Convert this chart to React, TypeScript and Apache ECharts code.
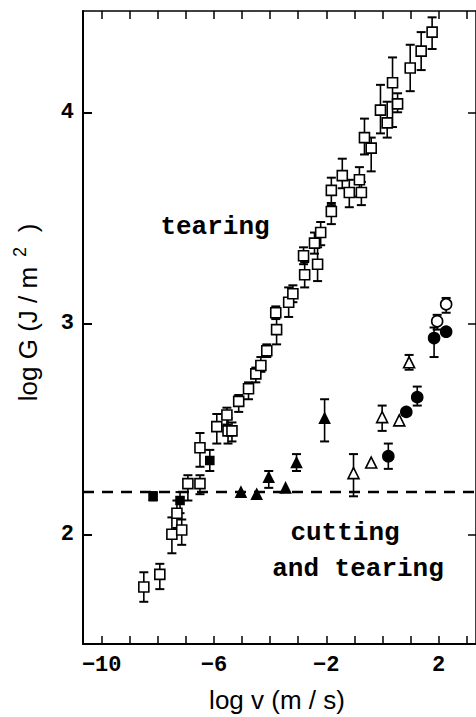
import React, { useEffect, useRef } from "react";
import * as echarts from "echarts";

// [log v, log G, error low, error high]
const tearingOpenSquares: (number | null)[][] = [
  [-8.5, 1.75, 1.68, 1.82],
  [-7.93, 1.81, 1.74, 1.86],
  [-7.5, 2.0, 1.91, 2.08],
  [-7.15, 2.02, 1.95, 2.07],
  [-7.32, 2.1, 2.03, 2.16],
  [-6.93, 2.24, 2.16, 2.28],
  [-6.5, 2.24, 2.19, 2.28],
  [-6.5, 2.41, 2.32, 2.48],
  [-5.9, 2.51, 2.43, 2.57],
  [-5.5, 2.49, 2.43, 2.55],
  [-5.36, 2.49, 2.44, 2.53],
  [-5.54, 2.565, 2.52, 2.6],
  [-5.12, 2.63, 2.58, 2.66],
  [-4.77, 2.69, 2.64, 2.72],
  [-4.51, 2.76, 2.72, 2.79],
  [-4.33, 2.8, 2.77, 2.84],
  [-4.12, 2.87, 2.84, 2.9],
  [-3.77, 2.97, 2.9, 3.03],
  [-3.8, 3.05, 3.02, 3.08],
  [-3.34, 3.1, 3.03, 3.17],
  [-3.19, 3.14, 3.1, 3.18],
  [-2.77, 3.23, 3.17, 3.29],
  [-2.81, 3.32, 3.28, 3.36],
  [-2.31, 3.28, 3.2, 3.36],
  [-2.42, 3.38, 3.33, 3.43],
  [-2.2, 3.43, 3.37, 3.48],
  [-1.82, 3.53, 3.47, 3.57],
  [-1.82, 3.63, 3.56, 3.69],
  [-1.43, 3.7, 3.64, 3.78],
  [-1.18, 3.62, 3.55, 3.68],
  [-0.82, 3.68, 3.6, 3.74],
  [-0.75, 3.62, 3.56, 3.67],
  [-0.64, 3.88, 3.8, 3.97],
  [-0.4, 3.83, 3.72, 3.88],
  [-0.07, 4.01, 3.9, 4.13],
  [0.17, 3.95, 3.88, 4.05],
  [0.36, 4.14, 3.93, 4.26],
  [0.54, 4.04, 4.0, 4.09],
  [0.99, 4.21, 4.1, 4.32],
  [1.38, 4.29, 4.2, 4.38],
  [1.77, 4.38, 4.3, 4.45],
];

const filledSquares: (number | null)[][] = [
  [-8.17, 2.18, 2.16, 2.2],
  [-7.21, 2.16, 2.1, 2.2],
  [-6.15, 2.35, 2.3, 2.4],
];

const filledTriangles: (number | null)[][] = [
  [-5.04, 2.2, null, null],
  [-4.48, 2.19, null, null],
  [-4.05, 2.27, 2.22, 2.3],
  [-3.45, 2.22, null, null],
  [-3.06, 2.34, 2.3, 2.38],
  [-2.06, 2.55, 2.44, 2.64],
];

const openTriangles: (number | null)[][] = [
  [-1.03, 2.29, 2.18, 2.38],
  [-0.4, 2.34, null, null],
  [-0.01, 2.555, 2.49, 2.61],
  [0.6, 2.54, null, null],
  [0.95, 2.815, 2.78, 2.85],
];

const filledCircles: (number | null)[][] = [
  [0.21, 2.37, 2.31, 2.43],
  [0.85, 2.58, null, null],
  [1.24, 2.65, 2.61, 2.7],
  [1.84, 2.93, 2.84, 2.98],
  [2.27, 2.96, null, null],
];

const openCircles: (number | null)[][] = [
  [1.95, 3.01, 2.97, 3.04],
  [2.27, 3.09, 3.05, 3.12],
];

const cuttingThreshold = 2.2;
const xTickValues = [-10, -9, -8, -7, -6, -5, -4, -3, -2, -1, 0, 1, 2, 3];
const xLabelValues = [-10, -6, -2, 2];
const yTickValues = [2, 3, 4];

const X_MIN = -32 / 3;
const X_MAX = 10 / 3;
const Y_MIN = 1.48;
const Y_MAX = 4.48;

const allSeries = [
  tearingOpenSquares,
  filledSquares,
  filledTriangles,
  openTriangles,
  filledCircles,
  openCircles,
];
const errorData = allSeries
  .flat()
  .filter((d) => d[2] != null && d[3] != null)
  .map((d) => [d[0], d[2], d[3]]);

const fmt = (v: number) => (v < 0 ? "\u2212" + Math.abs(v) : String(v));

function buildOption(): any {
  const tickFont = {
    fontFamily: "Liberation Mono",
    fontWeight: "bold",
    fontSize: 22,
    color: "#000",
  };
  const scatter = (
    data: (number | null)[][],
    symbol: string,
    size: number,
    filled: boolean
  ) => ({
    type: "scatter",
    data: data.map((d) => [d[0], d[1]]),
    symbol,
    symbolSize: size,
    itemStyle: {
      color: filled ? "#000" : "#fff",
      borderColor: "#000",
      borderWidth: 1.6,
      opacity: 1,
    },
    z: 5,
  });
  return {
    animation: false,
    backgroundColor: "#fff",
    grid: { left: 83, top: 11, width: 394, height: 633 },
    xAxis: [
      {
        type: "value",
        position: "bottom",
        min: X_MIN,
        max: X_MAX,
        axisLine: { onZero: false, lineStyle: { color: "#000", width: 2 } },
        axisTick: {
          inside: true,
          length: 8,
          customValues: xTickValues,
          lineStyle: { color: "#000", width: 1.5 },
        },
        axisLabel: {
          customValues: xLabelValues,
          formatter: fmt,
          margin: 10,
          ...tickFont,
        },
        splitLine: { show: false },
      },
      {
        type: "value",
        position: "top",
        min: X_MIN,
        max: X_MAX,
        axisLine: { onZero: false, lineStyle: { color: "#000", width: 1.5 } },
        axisTick: {
          inside: true,
          length: 8,
          customValues: xTickValues,
          lineStyle: { color: "#000", width: 1.5 },
        },
        axisLabel: { show: false },
        splitLine: { show: false },
      },
    ],
    yAxis: [
      {
        type: "value",
        position: "left",
        min: Y_MIN,
        max: Y_MAX,
        axisLine: { show: true, onZero: false, lineStyle: { color: "#000", width: 2 } },
        axisTick: {
          show: true,
          inside: true,
          length: 9,
          customValues: yTickValues,
          lineStyle: { color: "#000", width: 2 },
        },
        axisLabel: {
          customValues: yTickValues,
          margin: 9,
          ...tickFont,
        },
        splitLine: { show: false },
      },
      {
        type: "value",
        position: "right",
        min: Y_MIN,
        max: Y_MAX,
        axisLine: { show: true, onZero: false, lineStyle: { color: "#000", width: 1.5 } },
        axisTick: {
          show: true,
          inside: true,
          length: 8,
          customValues: yTickValues,
          lineStyle: { color: "#000", width: 1.5 },
        },
        axisLabel: { show: false },
        splitLine: { show: false },
      },
    ],
    series: [
      {
        type: "line",
        data: [
          [X_MIN, cuttingThreshold],
          [X_MAX, cuttingThreshold],
        ],
        showSymbol: false,
        symbol: "none",
        lineStyle: { color: "#000", width: 2.5, type: [11, 8] },
        z: 1,
      },
      {
        type: "custom",
        data: errorData,
        encode: { x: 0, y: [1, 2] },
        z: 3,
        renderItem: (params: any, api: any) => {
          const x = api.value(0);
          const lo = api.coord([x, api.value(1)]);
          const hi = api.coord([x, api.value(2)]);
          const cap = 4.5;
          const st = { stroke: "#000", lineWidth: 1.6 };
          const cst = { stroke: "#000", lineWidth: 2 };
          return {
            type: "group",
            children: [
              { type: "line", shape: { x1: lo[0], y1: lo[1], x2: hi[0], y2: hi[1] }, style: st },
              { type: "line", shape: { x1: lo[0] - cap, y1: lo[1], x2: lo[0] + cap, y2: lo[1] }, style: cst },
              { type: "line", shape: { x1: hi[0] - cap, y1: hi[1], x2: hi[0] + cap, y2: hi[1] }, style: cst },
            ],
          };
        },
      },
      scatter(tearingOpenSquares, "rect", 10, false),
      scatter(filledSquares, "rect", 8, true),
      scatter(filledTriangles, "triangle", 10, true),
      scatter(openTriangles, "triangle", 11, false),
      scatter(filledCircles, "circle", 11, true),
      scatter(openCircles, "circle", 11, false),
    ],
    graphic: [
      {
        type: "text",
        x: 215,
        y: 227,
        style: {
          text: "tearing",
          fontFamily: "Liberation Mono",
          fontSize: 26,
          fontWeight: "bold",
          fill: "#000",
          align: "center",
          verticalAlign: "middle",
        },
      },
      {
        type: "text",
        x: 345,
        y: 533,
        style: {
          text: "cutting",
          fontFamily: "Liberation Mono",
          fontSize: 26,
          fontWeight: "bold",
          fill: "#000",
          align: "center",
          verticalAlign: "middle",
        },
      },
      {
        type: "text",
        x: 358,
        y: 569,
        style: {
          text: "and tearing",
          fontFamily: "Liberation Mono",
          fontSize: 26,
          fontWeight: "bold",
          fill: "#000",
          align: "center",
          verticalAlign: "middle",
        },
      },
      {
        type: "text",
        x: 277,
        y: 700,
        style: {
          text: "log v (m / s)",
          fontFamily: "Liberation Sans",
          fontSize: 26,
          fill: "#000",
          align: "center",
          verticalAlign: "middle",
        },
      },
      {
        type: "text",
        x: 28,
        y: 334,
        rotation: Math.PI / 2,
        style: {
          text: "log G (J / m",
          fontFamily: "Liberation Sans",
          fontSize: 26,
          fill: "#000",
          align: "center",
          verticalAlign: "middle",
        },
      },
      {
        type: "text",
        x: 20,
        y: 252,
        rotation: Math.PI / 2,
        style: {
          text: "2",
          fontFamily: "Liberation Sans",
          fontSize: 18,
          fill: "#000",
          align: "center",
          verticalAlign: "middle",
        },
      },
      {
        type: "text",
        x: 28,
        y: 228,
        rotation: Math.PI / 2,
        style: {
          text: ")",
          fontFamily: "Liberation Sans",
          fontSize: 26,
          fill: "#000",
          align: "center",
          verticalAlign: "middle",
        },
      },
    ],
  };
}

export default function App() {
  const ref = useRef<HTMLDivElement>(null);
  useEffect(() => {
    if (!ref.current) return;
    const chart = echarts.init(ref.current, null, { renderer: "svg" });
    chart.setOption(buildOption());
    return () => chart.dispose();
  }, []);
  return (
    <div
      ref={ref}
      style={{
        position: "absolute",
        left: 0,
        top: 0,
        width: 476,
        height: 717,
        background: "#fff",
      }}
    />
  );
}
